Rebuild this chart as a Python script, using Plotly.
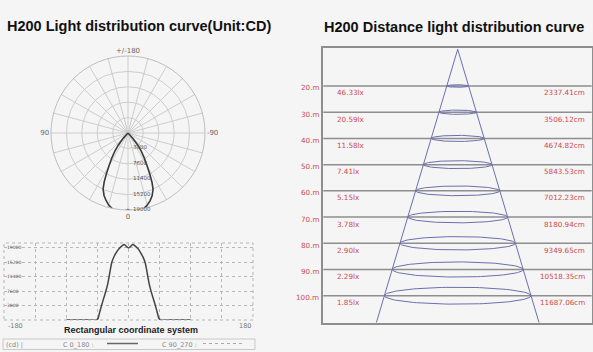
import numpy as np
import plotly.graph_objects as go

# ---------------- data ----------------
angles = [-90, -60, -47, -44, -42, -39, -36, -33, -30, -28, -26, -24, -21, -18, -15, -12, -9, -6, -3,
          0, 3, 6, 9, 12, 15, 18, 21, 24, 26, 28, 30, 33, 36, 39, 42, 44, 47, 60, 90]
cd_c0_180 = [0, 0, 0, 400, 1800, 3800, 5600, 7400, 9500, 11400, 13500, 15200, 16600, 17600, 18400, 19000, 19500, 19800, 19300,
             18900, 19300, 19800, 19500, 19000, 18400, 17500, 16500, 15100, 13400, 11300, 9400, 7300, 5500, 3700, 1700, 400, 0, 0, 0]
cd_ticks = [3800, 7600, 11400, 15200, 19000]

distances_m = [20, 30, 40, 50, 60, 70, 80, 90, 100]
illum_lx = [46.33, 20.59, 11.58, 7.41, 5.15, 3.78, 2.90, 2.29, 1.85]
diameter_cm = [2337.41, 3506.12, 4674.82, 5843.53, 7012.23, 8180.94, 9349.65, 10518.35, 11687.06]

# ---------------- page helpers ----------------
W, H = 593, 352
def px(x):
    return x / W
def py(y):
    return 1 - y / H

BG = "#f5f5f5"
GRID = "#cdcdcd"
RED = "#cc4a4f"
CONE = "#6b6fae"

fig = go.Figure()

# ---------------- polar plot ----------------
P_L, P_R, P_T, P_B = 51, 205, 56, 210
P_CX, P_CY, P_R_PX = (P_L + P_R) / 2, (P_T + P_B) / 2, (P_R - P_L) / 2
R_MAX = 19000

fig.add_trace(go.Scatterpolar(r=cd_c0_180, theta=angles, mode="lines",
                              line=dict(color="#3a3a3a", width=1.6),
                              showlegend=False, subplot="polar"))

ang_vals = list(range(0, 360, 15))
ang_text = []
for a in ang_vals:
    ang_text.append({0: "0", 90: "90", 180: "+/-180", 270: "-90"}.get(a, ""))

# ---------------- rectangular plot ----------------
fig.add_trace(go.Scatter(x=angles, y=cd_c0_180, mode="lines",
                         line=dict(color="#444444", width=1.5, shape="spline", smoothing=0.6),
                         showlegend=False, xaxis="x", yaxis="y"))

# ---------------- distance diagram ----------------
Y_TOP, Y_BOT = 5.62, 110.3
APEX, SLOPE = 6.0, 0.78
XL, XR = -134.4, 134.0

for d in distances_m:
    fig.add_shape(type="line", xref="x2 domain", yref="y2", x0=0, x1=1, y0=d, y1=d,
                  line=dict(color="#8e8e8e", width=1.5), layer="below")

for d in distances_m:
    rx = SLOPE * (d - APEX)
    ry = 0.044 * rx
    t = np.linspace(0, 2 * np.pi, 120)
    fig.add_trace(go.Scatter(x=rx * np.cos(t), y=d + ry * np.sin(t), mode="lines",
                             line=dict(color=CONE, width=1), showlegend=False,
                             xaxis="x2", yaxis="y2", hoverinfo="skip"))

edge = SLOPE * (Y_BOT - APEX)
for s in (-1, 1):
    fig.add_trace(go.Scatter(x=[0, s * edge], y=[APEX, Y_BOT], mode="lines",
                             line=dict(color=CONE, width=1), showlegend=False,
                             xaxis="x2", yaxis="y2", hoverinfo="skip"))

ann = []
for d, lx, dia in zip(distances_m, illum_lx, diameter_cm):
    ann.append(dict(text=f"{d}.m", xref="paper", yref="y2", x=px(321), y=d, yshift=-2,
                    xanchor="right", yanchor="middle", showarrow=False,
                    font=dict(size=7.2, color=RED, family="DejaVu Sans")))
    ann.append(dict(text=f"{lx:.2f}lx", xref="paper", yref="y2", x=px(335), y=d, yshift=-7,
                    xanchor="left", yanchor="middle", showarrow=False,
                    font=dict(size=7.2, color=RED, family="DejaVu Sans")))
    ann.append(dict(text=f"{dia:.2f}cm", xref="paper", yref="y2", x=px(587), y=d, yshift=-7,
                    xanchor="right", yanchor="middle", showarrow=False,
                    font=dict(size=7.2, color=RED, family="DejaVu Sans")))

# radial tick labels of the polar plot (along the 0-degree direction, pointing down)
for v in cd_ticks:
    ann.append(dict(text=str(v), xref="paper", yref="paper",
                    x=px(P_CX + 3), y=py(P_CY + v / R_MAX * P_R_PX - 1),
                    xanchor="left", yanchor="middle", showarrow=False,
                    font=dict(size=5.5, color="#555555", family="DejaVu Sans")))

# titles
TF = dict(family="Liberation Sans", size=14.5, color="#111111")
ann.append(dict(text="<b>H200 Light distribution curve(Unit:CD)</b>", xref="paper", yref="paper",
                x=px(5), y=py(26), xanchor="left", yanchor="middle", showarrow=False, font=TF))
ann.append(dict(text="<b>H200 Distance light distribution curve</b>", xref="paper", yref="paper",
                x=px(322), y=py(27), xanchor="left", yanchor="middle", showarrow=False, font=TF))

# rectangular plot texts
SF = dict(family="DejaVu Sans", size=6.5, color="#777777")
ann.append(dict(text="-180", xref="x", yref="paper", x=-180, xshift=2, y=py(326), xanchor="left",
                yanchor="middle", showarrow=False, font=SF))
ann.append(dict(text="180", xref="x", yref="paper", x=180, y=py(326), xanchor="right",
                yanchor="middle", showarrow=False, font=SF))
ann.append(dict(text="<b>Rectangular coordinate system</b>", xref="paper", yref="paper",
                x=px(130.5), y=py(330), xanchor="center", yanchor="middle", showarrow=False,
                font=dict(family="Liberation Sans", size=9, color="#222222")))
LF = dict(family="DejaVu Sans", size=6.5, color="#888888")
ann.append(dict(text="(cd) |", xref="paper", yref="paper", x=px(4), y=py(344.5), xanchor="left",
                yanchor="middle", showarrow=False, font=LF))
ann.append(dict(text="C 0_180 :", xref="paper", yref="paper", x=px(61), y=py(344.5), xanchor="left",
                yanchor="middle", showarrow=False, font=LF))
ann.append(dict(text="C 90_270 :", xref="paper", yref="paper", x=px(160), y=py(344.5), xanchor="left",
                yanchor="middle", showarrow=False, font=LF))

shapes = [
    dict(type="rect", xref="x domain", yref="y domain", x0=0, x1=1, y0=0, y1=1,
         line=dict(color="#b5b5b5", width=1, dash="dot")),
    dict(type="rect", xref="paper", yref="paper", x0=px(3), x1=px(255), y0=py(349.5), y1=py(339),
         line=dict(color="#c9c9c9", width=1)),
    dict(type="line", xref="paper", yref="paper", x0=px(107), x1=px(138), y0=py(343.5), y1=py(343.5),
         line=dict(color="#666666", width=1.5)),
    dict(type="line", xref="paper", yref="paper", x0=px(203), x1=px(243), y0=py(343.5), y1=py(343.5),
         line=dict(color="#aaaaaa", width=1, dash="dot")),
]
for s in shapes:
    fig.add_shape(**s)

fig.update_layout(
    width=W, height=H, margin=dict(l=0, r=0, t=0, b=0),
    paper_bgcolor=BG, plot_bgcolor="rgba(0,0,0,0)", showlegend=False,
    polar=dict(
        domain=dict(x=[px(P_L), px(P_R)], y=[py(P_B), py(P_T)]),
        bgcolor="rgba(0,0,0,0)",
        angularaxis=dict(rotation=270, direction="clockwise", tickmode="array",
                         tickvals=ang_vals, ticktext=ang_text, ticks="",
                         gridcolor=GRID, gridwidth=0.8, linecolor="#bdbdbd", linewidth=1,
                         tickfont=dict(size=7, color="#666666", family="DejaVu Sans")),
        radialaxis=dict(range=[0, R_MAX], tickmode="array", tickvals=cd_ticks,
                        showticklabels=False, angle=270,
                        showline=False, ticks="", gridcolor=GRID, gridwidth=0.8),
    ),
    xaxis=dict(domain=[px(4), px(253)], range=[-180, 180], tickmode="array",
               tickvals=list(range(-180, 181, 45)), showticklabels=False, showgrid=True,
               gridcolor="#b8b8b8", griddash="dot", gridwidth=1, zeroline=False, showline=False,
               anchor="y", fixedrange=True),
    yaxis=dict(domain=[py(320), py(243)], range=[0, 20200], tickmode="array", tickvals=cd_ticks,
               ticktext=[str(v) for v in cd_ticks], ticklabelposition="inside",
               tickfont=dict(size=4.5, color="#555555", family="DejaVu Sans"),
               showgrid=True, gridcolor="#b8b8b8", griddash="dot", gridwidth=1,
               zeroline=False, showline=False, anchor="x", fixedrange=True),
    xaxis2=dict(domain=[px(323.3), px(591.7)], range=[XL, XR], showticklabels=False,
                showgrid=False, zeroline=False, showline=True, mirror=True,
                linecolor="#8e8e8e", linewidth=1.5, anchor="y2", ticks=""),
    yaxis2=dict(domain=[py(322.7), py(48.3)], range=[Y_BOT, Y_TOP], showticklabels=False,
                showgrid=False, zeroline=False, showline=True, mirror=True,
                linecolor="#8e8e8e", linewidth=1.5, anchor="x2", ticks=""),
    annotations=ann,
)

fig.write_html("out.html")
